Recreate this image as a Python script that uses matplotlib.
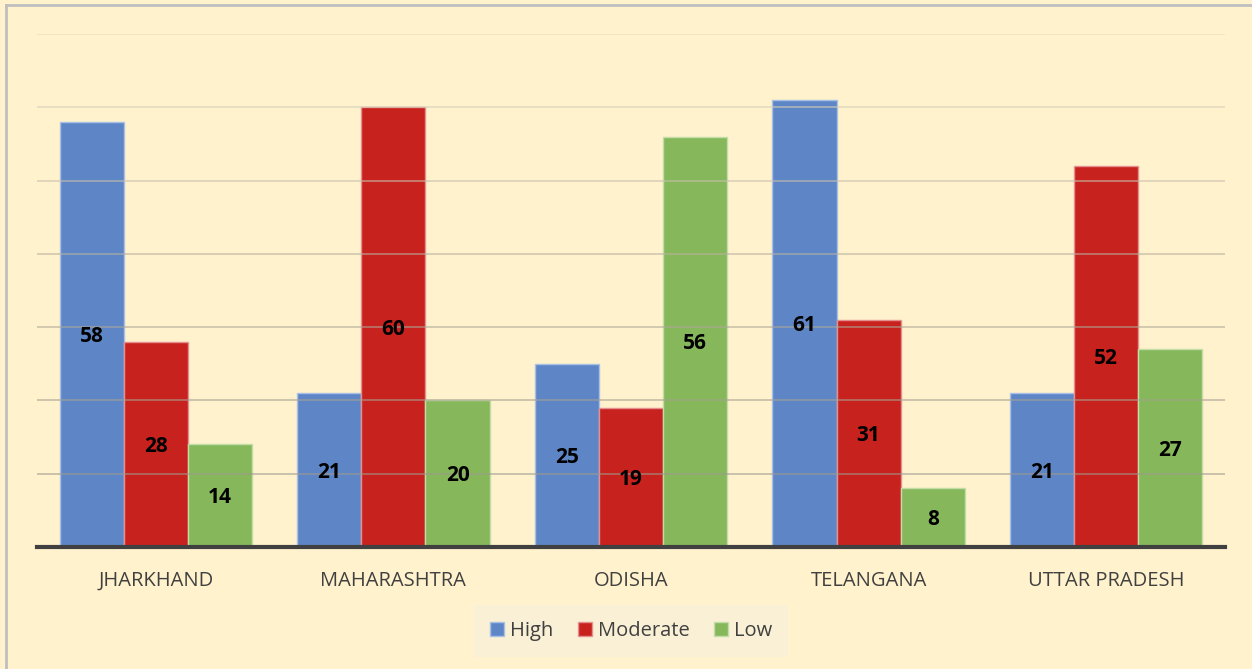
import matplotlib
matplotlib.use("Agg")
import matplotlib.pyplot as plt
import numpy as np
from matplotlib.lines import Line2D

STATES = ["JHARKHAND", "MAHARASHTRA", "ODISHA", "TELANGANA", "UTTAR PRADESH"]
HIGH = [58, 21, 25, 61, 21]
MODERATE = [28, 60, 19, 31, 52]
LOW = [14, 20, 56, 8, 27]
SERIES = ["High", "Moderate", "Low"]
COLORS = ["#5E86C6", "#C8221E", "#86B85B"]
EDGES = ["#A9C0E6", "#E59090", "#C2DDA8"]

BG = "#FFF2CD"

plt.rcParams["font.family"] = ["Open Sans", "DejaVu Sans"]

fig = plt.figure(figsize=(12.52, 6.69), dpi=100, facecolor=BG)
# outer frame: only top and left edges visible in the crop
fig.lines.append(Line2D([6 / 1252, 1], [1 - 5 / 669, 1 - 5 / 669], transform=fig.transFigure,
                        color="#BFBFBF", linewidth=2))
fig.lines.append(Line2D([6 / 1252, 6 / 1252], [0, 1 - 5 / 669], transform=fig.transFigure,
                        color="#BFBFBF", linewidth=2))

ax = fig.add_axes([37 / 1252, (669 - 547) / 669, 1188 / 1252, 513 / 669])
ax.set_facecolor(BG)

x = np.arange(len(STATES))
w = 0.27
for i, (vals, col, ec, name) in enumerate(zip([HIGH, MODERATE, LOW], COLORS, EDGES, SERIES)):
    bars = ax.bar(x + (i - 1) * w, vals, w, color=col, edgecolor=ec, linewidth=1,
                  label=name, zorder=2)
    for b, v in zip(bars, vals):
        ax.text(b.get_x() + b.get_width() / 2, v / 2 - 0.3, str(v), ha="center", va="center",
                fontsize=15, fontweight="bold", color="black", zorder=4)

ax.set_xlim(-0.5, len(STATES) - 0.5)
ax.set_ylim(0, 70)
ax.set_yticks(np.arange(10, 71, 10))
ax.tick_params(axis="y", length=0, labelleft=False)
ax.tick_params(axis="x", length=0, pad=17)
ax.set_xticks(x, STATES, fontsize=14.5, color="#404040")

grid_cols = ["#9E9A8E", "#A6A192", "#ADA797", "#B8B19F", "#C8C0AC", "#D6CEB7", "#E4DAC0"]
for yv, gc in zip(np.arange(10, 71, 10), grid_cols):
    ax.axhline(yv, color=gc, linewidth=1.3, alpha=0.6, zorder=3)

for s in ["top", "right", "left"]:
    ax.spines[s].set_visible(False)
ax.spines["bottom"].set_color("#404040")
ax.spines["bottom"].set_linewidth(3)
ax.spines["bottom"].set_zorder(5)

leg = fig.legend(loc="center", bbox_to_anchor=(631 / 1252, 1 - 631 / 669), ncol=3,
                 frameon=True, fontsize=14.5, handlelength=0.7, handleheight=0.7,
                 handletextpad=0.3, columnspacing=1.2, borderpad=0.5)
leg.get_frame().set_facecolor("#F8F0D8")
leg.get_frame().set_edgecolor("none")
leg.get_frame().set_boxstyle("square", pad=0.3)
for t in leg.get_texts():
    t.set_color("#404040")

fig.savefig("out.png", dpi=100, facecolor=BG)
